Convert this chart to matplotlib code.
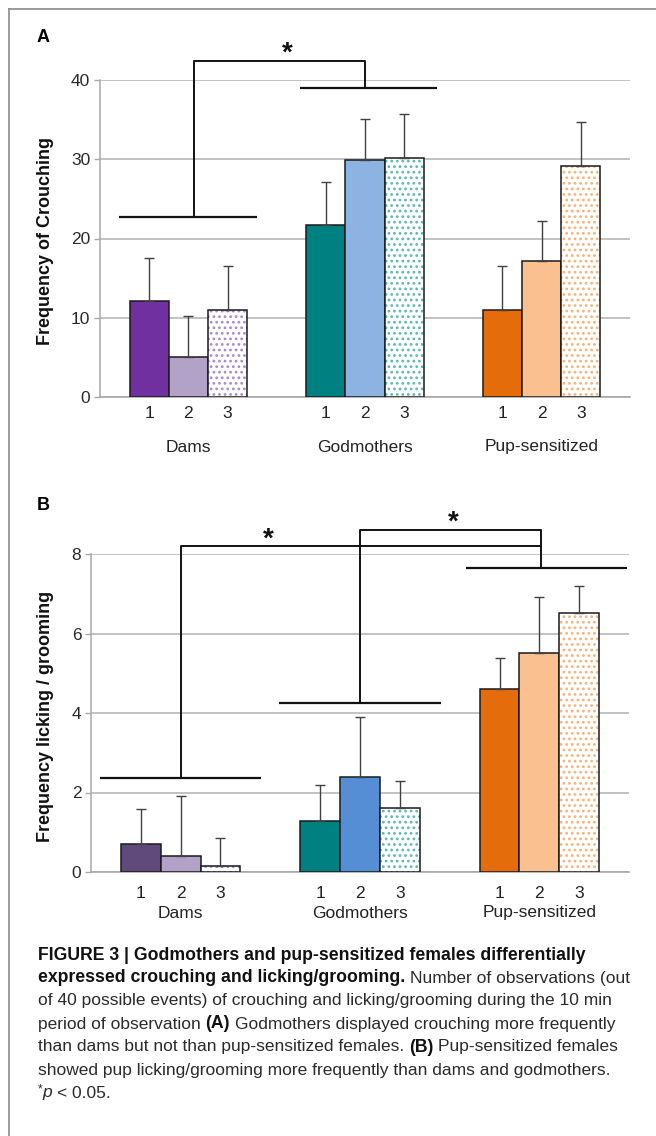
import matplotlib
matplotlib.use('Agg')
import matplotlib.pyplot as plt
from matplotlib.lines import Line2D
import numpy as np

plt.rcParams['font.family'] = ['Liberation Sans', 'DejaVu Sans']
plt.rcParams['hatch.linewidth'] = 1.2

# ---------------- data ----------------
groups = ['Dams', 'Godmothers', 'Pup-sensitized']
sub_labels = ['1', '2', '3']

crouch_mean = [[12.1, 5.0, 11.0], [21.7, 29.9, 30.1], [11.0, 17.1, 29.1]]
crouch_err = [[5.4, 5.2, 5.5], [5.4, 5.2, 5.6], [5.5, 5.1, 5.6]]

lick_mean = [[0.70, 0.39, 0.16], [1.28, 2.40, 1.60], [4.60, 5.50, 6.52]]
lick_err = [[0.89, 1.51, 0.70], [0.92, 1.50, 0.70], [0.79, 1.41, 0.68]]

colors_A = [['#7030a0', '#b3a2c7', None], ['#008080', '#8db3e2', None], ['#e46c0a', '#fac090', None]]
colors_B = [['#604a7b', '#b3a2c7', None], ['#008080', '#558ed5', None], ['#e46c0a', '#fac090', None]]
dot_colors = ['#a88ad0', '#5ab8b8', '#f7b27a']

# significance annotations (data coordinates)
sigA_lines = [(-0.39, 0.39, 22.75), (0.63, 1.41, 39.0)]
sigA_paths = [[(0.03, 22.75), (0.03, 42.4), (1.0, 42.4), (1.0, 39.0)]]
sigA_stars = [(0.56, 42.4)]

sigB_lines = [(-0.45, 0.45, 2.36), (0.55, 1.45, 4.26), (1.59, 2.49, 7.66)]
sigB_paths = [[(0.0, 2.36), (0.0, 8.19), (2.01, 8.19), (2.01, 7.66)],
              [(1.0, 4.26), (1.0, 8.61), (2.01, 8.61), (2.01, 8.19)]]
sigB_stars = [(0.49, 8.19), (1.52, 8.61)]

W, H = 656, 1136
fig = plt.figure(figsize=(W / 100, H / 100), dpi=100)
fig.patch.set_facecolor('white')


def fx(px):
    return px / W


def fy(py):
    return 1 - py / H


def make_panel(rect, means, errs, colors, ylim, yticks, ylabel, lines, paths, stars,
               num_off, grp_off, ylabel_center):
    ax = fig.add_axes(rect)
    w = 0.222
    for g in range(3):
        for i in range(3):
            x = g + (i - 1) * w
            m = means[g][i]
            e = errs[g][i]
            if colors[g][i] is None:
                ax.bar(x, m, width=w, color='white', edgecolor=dot_colors[g],
                       hatch='...', linewidth=0, zorder=3)
                ax.bar(x, m, width=w, fill=False, edgecolor='#1a1a1a', linewidth=1.1, zorder=3.5)
            else:
                ax.bar(x, m, width=w, color=colors[g][i], edgecolor='#1a1a1a',
                       linewidth=1.1, zorder=3)
            ax.errorbar(x, m, yerr=[[0], [e]], fmt='none', ecolor='#404040',
                        elinewidth=1.0, capsize=3.5, capthick=1.0, zorder=4)
            ax.annotate(sub_labels[i], xy=(x, 0), xycoords=('data', 'axes fraction'),
                        xytext=(0, -num_off * 0.72), textcoords='offset points',
                        ha='center', va='center', fontsize=12.5, color='#222222')
        ax.annotate(groups[g], xy=(g, 0), xycoords=('data', 'axes fraction'),
                    xytext=(0, -grp_off * 0.72), textcoords='offset points',
                    ha='center', va='center', fontsize=12.5, color='#222222')
    ax.set_xlim(-0.5, 2.5)
    ax.set_ylim(*ylim)
    ax.set_yticks(yticks)
    ax.set_xticks([])
    ax.yaxis.grid(True, color='#b8b8b8', linewidth=1.2)
    ax.set_axisbelow(True)
    for s in ['top', 'right']:
        ax.spines[s].set_visible(False)
    ax.spines['left'].set_color('#a8a8a8')
    ax.spines['bottom'].set_color('#a8a8a8')
    ax.spines['left'].set_linewidth(1.1)
    ax.spines['bottom'].set_linewidth(1.2)
    ax.tick_params(axis='y', length=4, color='#a8a8a8', width=1, labelsize=12.5,
                   labelcolor='#2a2a2a', pad=3)
    for (x0, x1, y) in lines:
        ax.plot([x0, x1], [y, y], color='#111111', lw=1.6, clip_on=False, zorder=5,
                solid_capstyle='butt')
    for p in paths:
        xs, ys = zip(*p)
        ax.plot(xs, ys, color='#111111', lw=1.4, clip_on=False, zorder=5)
    for (x, y) in stars:
        ax.text(x, y, '*', ha='center', va='baseline', fontsize=20, fontweight='bold',
                color='#111111', clip_on=False)
    fig.text(fx(46), fy(ylabel_center), ylabel, rotation=90, ha='center', va='center',
             fontsize=13, fontweight='bold', color='#111111')
    return ax


axA = make_panel([fx(100), fy(397), fx(630) - fx(100), fy(80) - fy(397)],
                 crouch_mean, crouch_err, colors_A, (0, 40), [0, 10, 20, 30, 40],
                 'Frequency of Crouching', sigA_lines, sigA_paths, sigA_stars,
                 17, 50, 241)
axB = make_panel([fx(91), fy(872), fx(629) - fx(91), fy(554) - fy(872)],
                 lick_mean, lick_err, colors_B, (0, 8), [0, 2, 4, 6, 8],
                 'Frequency licking / grooming', sigB_lines, sigB_paths, sigB_stars,
                 21, 41, 716)

fig.text(fx(37), fy(37), 'A', fontsize=13, fontweight='bold', ha='left', va='center')
fig.text(fx(37), fy(506), 'B', fontsize=13, fontweight='bold', ha='left', va='center')

# frame
fig.add_artist(Line2D([fx(9), fx(9)], [fy(9), 0], transform=fig.transFigure,
                      color='#8a8a8a', lw=1.2))
fig.add_artist(Line2D([fx(9), 1], [fy(9), fy(9)], transform=fig.transFigure,
                      color='#8a8a8a', lw=1.2))

# caption
cap_lines = [
    [("FIGURE 3 | Godmothers and pup-sensitized females differentially", 'bold')],
    [("expressed crouching and licking/grooming.", 'bold'), (" Number of observations (out", 'normal')],
    [("of 40 possible events) of crouching and licking/grooming during the 10 min", 'normal')],
    [("period of observation ", 'normal'), ("(A)", 'bold'), (" Godmothers displayed crouching more frequently", 'normal')],
    [("than dams but not than pup-sensitized females. ", 'normal'), ("(B)", 'bold'), (" Pup-sensitized females", 'normal')],
    [("showed pup licking/grooming more frequently than dams and godmothers.", 'normal')],
    [("*", 'sup'), ("p", 'italic'), (" < 0.05.", 'normal')],
]
cap_size = 12.5
cap_bold_size = 12.7
fig.canvas.draw()
renderer = fig.canvas.get_renderer()


def text_width(s, **kw):
    t = fig.text(0, 0, s, **kw)
    w = t.get_window_extent(renderer).width
    t.remove()
    return w


for li, segs in enumerate(cap_lines):
    y = 955 + 23 * li
    x = 38.0
    for s, style in segs:
        kw = dict(fontsize=cap_size, color='#2a2a2a')
        yy = y
        if style == 'bold':
            kw['fontweight'] = 'bold'
            kw['fontsize'] = cap_bold_size
            kw['color'] = '#111111'
        elif style == 'italic':
            kw['fontstyle'] = 'italic'
        elif style == 'sup':
            kw['fontsize'] = cap_size * 0.7
            yy = y - 4
        lead = len(s) - len(s.lstrip(' '))
        trail = len(s) - len(s.rstrip(' '))
        core = s.strip(' ')
        sp = text_width('x x', **kw) - text_width('xx', **kw)
        x += lead * sp
        t = fig.text(fx(x), fy(yy), core, ha='left', va='center', **kw)
        x += t.get_window_extent(renderer).width
        x += trail * sp

fig.savefig('out.png', dpi=100, facecolor='white')
